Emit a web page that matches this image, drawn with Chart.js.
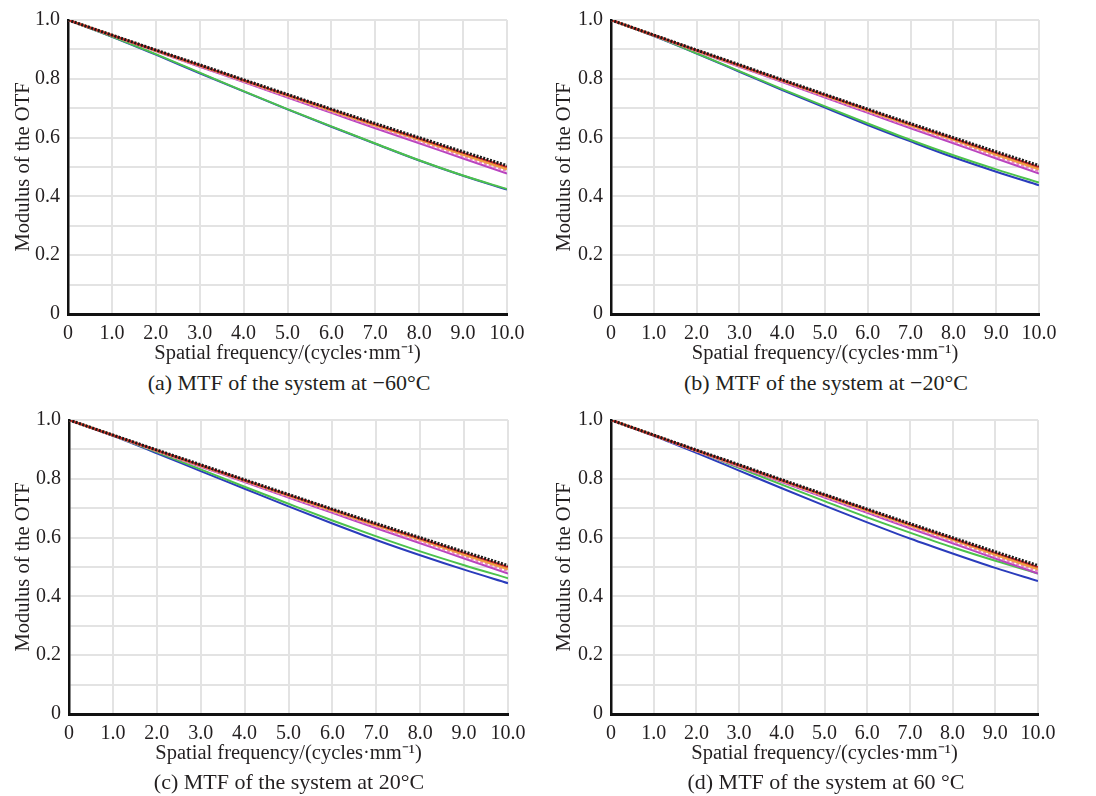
<!DOCTYPE html>
<html>
<head>
<meta charset="utf-8">
<script src="https://cdn.jsdelivr.net/npm/chart.js@4.4.1/dist/chart.umd.min.js"></script>
<style>
  body { margin: 0; background: #fff; width: 1096px; height: 796px; position: relative; overflow: hidden; }
  canvas { position: absolute; }
  .cap { position: absolute; font-family: "Liberation Serif", serif; font-size: 22px; color: #231f20;
         transform: translate(-50%, -50%); white-space: nowrap; }
</style>
</head>
<body>
<canvas id="chartA" width="540" height="370" style="left:0;top:0"></canvas>
<canvas id="chartB" width="556" height="370" style="left:540px;top:0"></canvas>
<canvas id="chartC" width="540" height="370" style="left:0;top:400px"></canvas>
<canvas id="chartD" width="556" height="370" style="left:540px;top:400px"></canvas>
<div class="cap" style="left:289px;top:383px">(a) MTF of the system at −60°C</div>
<div class="cap" style="left:826px;top:383px">(b) MTF of the system at −20°C</div>
<div class="cap" style="left:289px;top:782px">(c) MTF of the system at 20°C</div>
<div class="cap" style="left:826px;top:782px">(d) MTF of the system at 60 °C</div>
<script>
// spatial frequency samples (cycles/mm)
const freqs = [0, 1, 2, 3, 4, 5, 6, 7, 8, 9, 10];
const xTickLabels = ['0', '1.0', '2.0', '3.0', '4.0', '5.0', '6.0', '7.0', '8.0', '9.0', '10.0'];
const yTickLabels = ['0', '0.2', '0.4', '0.6', '0.8', '1.0'];

// curves that look the same in all four plots
const diffLimit = [1, 0.949, 0.898, 0.848, 0.797, 0.747, 0.697, 0.648, 0.600, 0.552, 0.505];
const redT      = [1, 0.948, 0.897, 0.846, 0.795, 0.745, 0.695, 0.645, 0.597, 0.548, 0.500];
const orangeS   = [1, 0.948, 0.896, 0.845, 0.794, 0.743, 0.692, 0.642, 0.593, 0.542, 0.493];
const pinkS     = [1, 0.948, 0.895, 0.843, 0.792, 0.740, 0.689, 0.638, 0.588, 0.537, 0.487];
const magentaT  = [1, 0.947, 0.894, 0.841, 0.789, 0.736, 0.684, 0.632, 0.581, 0.529, 0.478];

// edge-of-field curves, one pair per temperature
const greenA = [1, 0.944, 0.884, 0.821, 0.758, 0.697, 0.638, 0.580, 0.523, 0.471, 0.425];
const blueA  = [1, 0.943, 0.882, 0.819, 0.757, 0.696, 0.637, 0.579, 0.522, 0.470, 0.423];
const greenB = [1, 0.946, 0.887, 0.826, 0.765, 0.706, 0.648, 0.592, 0.540, 0.492, 0.447];
const blueB  = [1, 0.945, 0.886, 0.824, 0.762, 0.702, 0.643, 0.587, 0.533, 0.484, 0.438];
const greenC = [1, 0.947, 0.891, 0.832, 0.773, 0.715, 0.658, 0.604, 0.553, 0.506, 0.462];
const blueC  = [1, 0.946, 0.887, 0.826, 0.766, 0.706, 0.648, 0.592, 0.540, 0.491, 0.445];
const greenD = [1, 0.948, 0.894, 0.837, 0.780, 0.724, 0.669, 0.617, 0.567, 0.521, 0.478];
const blueD  = [1, 0.946, 0.888, 0.828, 0.768, 0.709, 0.652, 0.597, 0.546, 0.497, 0.452];

const serif = '"Liberation Serif", "Times New Roman", serif';
const textColor = '#231f20';

function pts(arr) {
    return arr.map((v, i) => ({ x: freqs[i], y: v }));
}

function line(data, color, width, dash) {
    return {
        data: pts(data),
        borderColor: color,
        borderWidth: width,
        borderDash: dash || [],
        pointRadius: 0,
        cubicInterpolationMode: 'monotone',
        fill: false
    };
}

function makeChart(id, green, blue, yWidth, yTitlePad, padRight, padTop) {
    const ctx = document.getElementById(id).getContext('2d');
    return new Chart(ctx, {
        type: 'line',
        data: {
            datasets: [
                line(diffLimit, '#1a1a1a', 3, [2, 1.5]),
                line(redT, '#c8282a', 2),
                line(orangeS, '#f0a040', 2.5),
                line(pinkS, '#e880c0', 3, [3, 2]),
                line(magentaT, '#b844c0', 2),
                line(green, '#4cc24c', 2),
                line(blue, '#2a3cbc', 2)
            ]
        },
        options: {
            responsive: false,
            animation: false,
            layout: { padding: { top: padTop, right: padRight, bottom: 0, left: 0 } },
            plugins: { legend: { display: false }, tooltip: { enabled: false } },
            scales: {
                x: {
                    type: 'linear',
                    min: 0,
                    max: 10,
                    afterFit: s => { s.height = 56; },
                    grid: { color: '#e3e3e3', lineWidth: 2, drawTicks: false },
                    border: { display: true, color: '#111', width: 3 },
                    ticks: {
                        stepSize: 1,
                        padding: 8,
                        maxRotation: 0,
                        autoSkip: false,
                        color: textColor,
                        font: { family: serif, size: 20 },
                        callback: v => xTickLabels[Math.round(v)]
                    },
                    title: {
                        display: true,
                        text: 'Spatial frequency/(cycles·mm⁻¹)',
                        color: textColor,
                        font: { family: serif, size: 20.5 },
                        padding: { top: 0, bottom: 4 }
                    }
                },
                y: {
                    min: 0,
                    max: 1,
                    afterFit: s => { s.width = yWidth; },
                    grid: { color: '#e3e3e3', lineWidth: 2, drawTicks: false },
                    border: { display: true, color: '#111', width: 2.5 },
                    ticks: {
                        stepSize: 0.1,
                        padding: 8,
                        autoSkip: false,
                        color: textColor,
                        font: { family: serif, size: 20 },
                        callback: v => {
                            const k = Math.round(v * 10);
                            return k % 2 === 0 ? yTickLabels[k / 2] : '';
                        }
                    },
                    title: {
                        display: true,
                        text: 'Modulus of the OTF',
                        color: textColor,
                        font: { family: serif, size: 20.5 },
                        padding: { top: yTitlePad, bottom: 0 }
                    }
                }
            }
        }
    });
}

makeChart('chartA', greenA, blueA, 68, 11, 33, 15);
makeChart('chartB', greenB, blueB, 71, 12, 57, 14);
makeChart('chartC', greenC, blueC, 69, 11, 32, 15);
makeChart('chartD', greenD, blueD, 71, 12, 58, 15);
</script>
</body>
</html>
